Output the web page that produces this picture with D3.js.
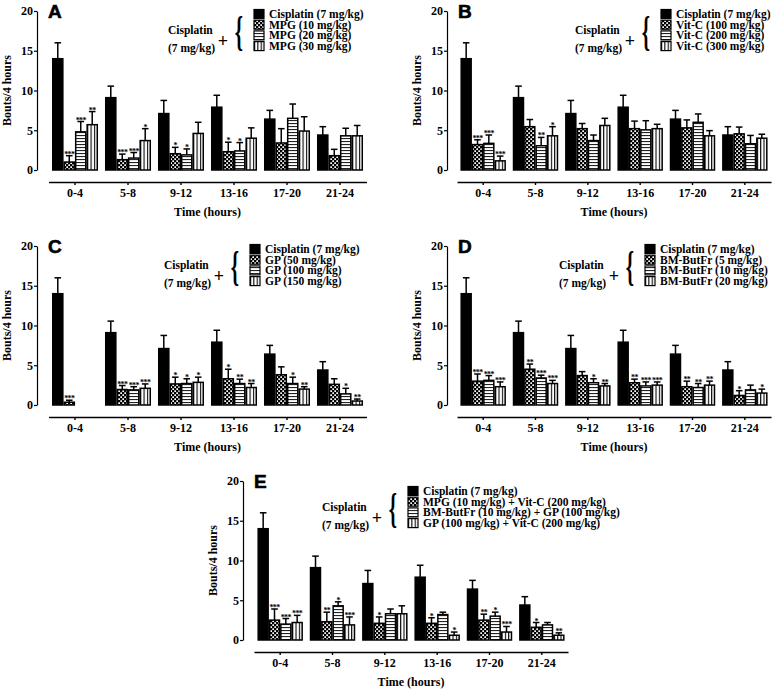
<!DOCTYPE html>
<html><head><meta charset="utf-8">
<script src="https://cdn.jsdelivr.net/npm/d3@7"></script>
<style>
body{margin:0;background:#fff;}
svg text{font-family:"Liberation Serif","Times New Roman",serif;font-weight:bold;fill:#000;}
</style></head><body>
<svg id="chart" width="778" height="689"></svg>
<script>
// ---------- data ----------
const timeBins = ["0-4","5-8","9-12","13-16","17-20","21-24"];
const yTickValues = [0,5,10,15,20];
const panelLetters = ["A","B","C","D","E"];
const cisplatinLabel = "Cisplatin (7 mg/kg)";
const cisplatinMean = [14.0, 9.1, 7.1, 7.9, 6.4, 4.4];
const cisplatinSem  = [2.0, 1.45, 1.65, 1.5, 1.1, 1.05];

// Panel A: MPG
const mpgLabels = ["MPG (10 mg/kg)","MPG (20 mg/kg)","MPG (30 mg/kg)"];
const mpg10Mean = [1.0, 1.3, 2.05, 2.3, 3.4, 1.8];
const mpg10Sem  = [0.8, 0.7, 0.8, 1.2, 1.8, 0.8];
const mpg10Sig  = ["***","***","*","*","",""];
const mpg20Mean = [4.8, 1.5, 1.9, 2.4, 6.5, 4.3];
const mpg20Sem  = [1.3, 0.7, 0.75, 1.05, 1.8, 0.95];
const mpg20Sig  = ["***","***","*","*","",""];
const mpg30Mean = [5.7, 3.7, 4.6, 4.0, 4.9, 4.3];
const mpg30Sem  = [1.65, 1.5, 1.4, 1.3, 1.8, 1.3];
const mpg30Sig  = ["**","*","","","",""];

// Panel B: Vit-C
const vitcLabels = ["Vit-C (100 mg/kg)","Vit-C (200 mg/kg)","Vit-C (300 mg/kg)"];
const vitc100Mean = [3.2, 5.45, 5.2, 5.2, 5.3, 4.55];
const vitc100Sem  = [0.6, 0.9, 0.65, 0.95, 1.0, 0.85];
const vitc100Sig  = ["***","","","","",""];
const vitc200Mean = [3.35, 3.05, 3.7, 5.05, 6.0, 3.3];
const vitc200Sem  = [1.05, 1.05, 0.7, 1.15, 1.05, 1.05];
const vitc200Sig  = ["***","**","","","",""];
const vitc300Mean = [1.15, 4.3, 5.6, 5.2, 4.3, 4.0];
const vitc300Sem  = [0.6, 1.15, 0.9, 0.55, 0.65, 0.5];
const vitc300Sig  = ["***","*","","","",""];

// Panel C: GP
const gpLabels = ["GP (50 mg/kg)","GP (100 mg/kg)","GP (150 mg/kg)"];
const gp50Mean  = [0.35, 1.95, 2.65, 3.3, 3.8, 2.6];
const gp50Sem   = [0.25, 0.5, 0.85, 1.2, 1.0, 0.7];
const gp50Sig   = ["***","***","*","*","",""];
const gp100Mean = [null, 1.9, 2.7, 2.7, 2.7, 1.4];
const gp100Sem  = [null, 0.4, 0.6, 0.55, 0.8, 0.7];
const gp100Sig  = ["","***","*","**","*","*"];
const gp150Mean = [null, 2.1, 2.85, 2.2, 2.0, 0.5];
const gp150Sem  = [null, 0.55, 0.65, 0.5, 0.3, 0.25];
const gp150Sig  = ["","***","*","**","**","**"];

// Panel D: BM-ButFr
const butLabels = ["BM-ButFr (5 mg/kg)","BM-ButFr (10 mg/kg)","BM-ButFr (20 mg/kg)"];
const but5Mean  = [3.0, 4.5, 3.7, 2.8, 2.3, 1.2];
const but5Sem   = [0.9, 0.65, 0.5, 0.45, 0.7, 0.6];
const but5Sig   = ["***","**","","**","**","*"];
const but10Mean = [3.1, 3.4, 2.8, 2.4, 2.2, 1.9];
const but10Sem  = [0.6, 0.35, 0.5, 0.5, 0.5, 0.6];
const but10Sig  = ["***","***","*","***","**",""];
const but20Mean = [2.3, 2.7, 2.4, 2.5, 2.5, 1.5];
const but20Sem  = [0.6, 0.4, 0.3, 0.4, 0.5, 0.5];
const but20Sig  = ["***","***","**","***","**","*"];

// Panel E: combinations
const comboLabels = ["MPG (10 mg/kg) + Vit-C (200 mg/kg)","BM-ButFr (10 mg/kg) + GP (100 mg/kg)","GP (100 mg/kg) + Vit-C (200 mg/kg)"];
const combo1Mean = [2.5, 2.3, 2.1, 2.1, 2.5, 1.6];
const combo1Sem  = [1.4, 1.2, 0.8, 0.7, 0.75, 0.6];
const combo1Sig  = ["***","**","*","*","**","*"];
const combo2Mean = [2.0, 4.3, 3.3, 3.2, 3.0, 1.9];
const combo2Sem  = [0.7, 0.5, 0.6, 0.3, 0.5, 0.3];
const combo2Sig  = ["***","*","","","*",""];
const combo3Mean = [2.2, 1.9, 3.3, 0.6, 1.0, 0.6];
const combo3Sem  = [0.9, 1.0, 1.0, 0.4, 0.7, 0.3];
const combo3Sig  = ["***","***","","*","***","**"];

// ---------- layout ----------
const panels = [
  {letter:panelLetters[0], yAxisX:37, zeroY:170, xr:[48.5,366.5], swX:254, rowY:14, labels:mpgLabels,
   series:[[mpg10Mean,mpg10Sem,mpg10Sig],[mpg20Mean,mpg20Sem,mpg20Sig],[mpg30Mean,mpg30Sem,mpg30Sig]]},
  {letter:panelLetters[1], yAxisX:447, zeroY:170, xr:[457,771], swX:661, rowY:14, labels:vitcLabels,
   series:[[vitc100Mean,vitc100Sem,vitc100Sig],[vitc200Mean,vitc200Sem,vitc200Sig],[vitc300Mean,vitc300Sem,vitc300Sig]]},
  {letter:panelLetters[2], yAxisX:37, zeroY:405, xr:[48.5,366.5], swX:250, rowY:249, labels:gpLabels,
   series:[[gp50Mean,gp50Sem,gp50Sig],[gp100Mean,gp100Sem,gp100Sig],[gp150Mean,gp150Sem,gp150Sig]]},
  {letter:panelLetters[3], yAxisX:447, zeroY:405, xr:[457,771], swX:645, rowY:249, labels:butLabels,
   series:[[but5Mean,but5Sem,but5Sig],[but10Mean,but10Sem,but10Sig],[but20Mean,but20Sem,but20Sig]]},
  {letter:panelLetters[4], yAxisX:243, zeroY:640, xr:[254,568], swX:408, rowY:491, labels:comboLabels,
   series:[[combo1Mean,combo1Sem,combo1Sig],[combo2Mean,combo2Sem,combo2Sig],[combo3Mean,combo3Sem,combo3Sig]]}
];

const svg = d3.select("#chart");
const defs = svg.append("defs");
// checker pattern
const pc = defs.append("pattern").attr("id","pChk").attr("patternUnits","userSpaceOnUse").attr("width",4).attr("height",4);
pc.append("rect").attr("width",4).attr("height",4).attr("fill","#000");
pc.append("rect").attr("x",0.3).attr("y",0.3).attr("width",1.7).attr("height",1.7).attr("fill","#fff");
pc.append("rect").attr("x",2.3).attr("y",2.3).attr("width",1.7).attr("height",1.7).attr("fill","#fff");
// horizontal stripes
const ph = defs.append("pattern").attr("id","pHz").attr("patternUnits","userSpaceOnUse").attr("width",4).attr("height",3);
ph.append("rect").attr("width",4).attr("height",3).attr("fill","#fff");
ph.append("rect").attr("width",4).attr("height",1.1).attr("fill","#222");
// vertical stripes
const pv = defs.append("pattern").attr("id","pVt").attr("patternUnits","objectBoundingBox").attr("patternContentUnits","objectBoundingBox").attr("width",1/3).attr("height",1);
pv.append("rect").attr("width",1/3).attr("height",1).attr("fill","#fff");
pv.append("rect").attr("width",0.11).attr("height",1).attr("fill","#000");
const fills = ["#000","url(#pChk)","url(#pHz)","url(#pVt)"];

const FONT = '"Liberation Serif","Times New Roman",serif';

panels.forEach(p => {
  const g = svg.append("g");
  const y = d3.scaleLinear().domain([0,20]).range([p.zeroY, p.zeroY - 159]);
  const x0 = d3.scaleBand().domain(timeBins).range(p.xr).paddingInner(0.16).paddingOuter(0.08);
  const x1 = d3.scaleBand().domain(d3.range(4)).range([0, x0.bandwidth()]).paddingInner(0.12);

  // y axis
  const ya = g.append("g").attr("transform",`translate(${p.yAxisX},0)`)
    .call(d3.axisLeft(y).tickValues(yTickValues).tickSize(3).tickSizeOuter(0).tickPadding(1));
  ya.attr("font-family",FONT).attr("font-size",12);
  ya.selectAll("path,line").attr("stroke","#000").attr("stroke-width",1.2);

  // x axis
  const xa = g.append("g").attr("transform",`translate(0,${p.zeroY+12})`)
    .call(d3.axisBottom(x0).tickSize(3).tickSizeOuter(0).tickPadding(3));
  xa.attr("font-family",FONT).attr("font-size",12);
  xa.selectAll("path,line").attr("stroke","#000").attr("stroke-width",1.4);

  // axis titles
  g.append("text").attr("transform",`translate(${p.yAxisX-30},${(y(0)+y(20))/2}) rotate(-90)`)
    .attr("text-anchor","middle").attr("dominant-baseline","central").attr("font-size",12).text("Bouts/4 hours");
  g.append("text").attr("x",(p.xr[0]+p.xr[1])/2).attr("y",p.zeroY+46)
    .attr("text-anchor","middle").attr("font-size",12).text("Time (hours)");

  // panel letter
  g.append("text").attr("x",p.yAxisX+11).attr("y",p.zeroY-152)
    .style("font-family",'"Liberation Sans",Arial,sans-serif').style("font-weight","900")
    .attr("stroke","#000").attr("stroke-width",0.6)
    .attr("font-size",19).text(p.letter);

  // bars
  const allSeries = [[cisplatinMean,cisplatinSem,timeBins.map(()=> "")]].concat(p.series);
  const items = [];
  allSeries.forEach((s,si) => {
    timeBins.forEach((t,ti) => {
      if (s[0][ti] != null) items.push({t, si, m:s[0][ti], e:s[1][ti], sig:s[2][ti]});
    });
  });
  const bw = x1.bandwidth();
  g.selectAll("rect.bar").data(items).join("rect").attr("class","bar")
    .attr("x",d=>x0(d.t)+x1(d.si)).attr("y",d=>y(d.m))
    .attr("width",bw).attr("height",d=>y(0)-y(d.m))
    .attr("fill",d=>fills[d.si]).attr("stroke","#000").attr("stroke-width",1.5);
  // error bars
  g.selectAll("line.err").data(items).join("line").attr("class","err")
    .attr("x1",d=>x0(d.t)+x1(d.si)+bw/2).attr("x2",d=>x0(d.t)+x1(d.si)+bw/2)
    .attr("y1",d=>y(d.m)).attr("y2",d=>y(d.m+d.e)).attr("stroke","#000").attr("stroke-width",1.5);
  g.selectAll("line.cap").data(items).join("line").attr("class","cap")
    .attr("x1",d=>x0(d.t)+x1(d.si)+bw/2-3.3).attr("x2",d=>x0(d.t)+x1(d.si)+bw/2+3.3)
    .attr("y1",d=>y(d.m+d.e)).attr("y2",d=>y(d.m+d.e)).attr("stroke","#000").attr("stroke-width",1.5);
  // significance
  g.selectAll("text.sig").data(items.filter(d=>d.sig)).join("text").attr("class","sig")
    .attr("x",d=>x0(d.t)+x1(d.si)+bw/2).attr("y",d=>y(d.m+d.e)+1)
    .attr("text-anchor","middle").attr("font-size",8).attr("letter-spacing",-0.6).text(d=>d.sig);

  // legend
  const rowH = 10.7;
  const legLabels = [cisplatinLabel].concat(p.labels);
  legLabels.forEach((lab,i) => {
    const cy = p.rowY + i*rowH;
    g.append("rect").attr("x",p.swX).attr("y",cy-4.5).attr("width",10).attr("height",9)
      .attr("fill",fills[i]).attr("stroke","#000").attr("stroke-width",1.2);
    g.append("text").attr("x",p.swX+15).attr("y",cy).attr("dominant-baseline","central")
      .attr("font-size",11.5).text(lab);
  });
  g.append("text").attr("x",p.swX-86).attr("y",p.rowY+16).attr("dominant-baseline","central")
    .attr("font-size",11.5).text("Cisplatin");
  g.append("text").attr("x",p.swX-86).attr("y",p.rowY+33.5).attr("dominant-baseline","central")
    .attr("font-size",11.5).text("(7 mg/kg)");
  g.append("text").attr("x",p.swX-31).attr("y",p.rowY+27).attr("dominant-baseline","central")
    .attr("text-anchor","middle").attr("font-size",18).text("+");
  const bcy = p.rowY + 2*rowH;
  g.append("text").attr("transform",`translate(${p.swX-15},${bcy+10}) scale(0.5,1)`)
    .attr("text-anchor","middle").attr("font-size",42).text("{");
});
</script>
</body></html>
